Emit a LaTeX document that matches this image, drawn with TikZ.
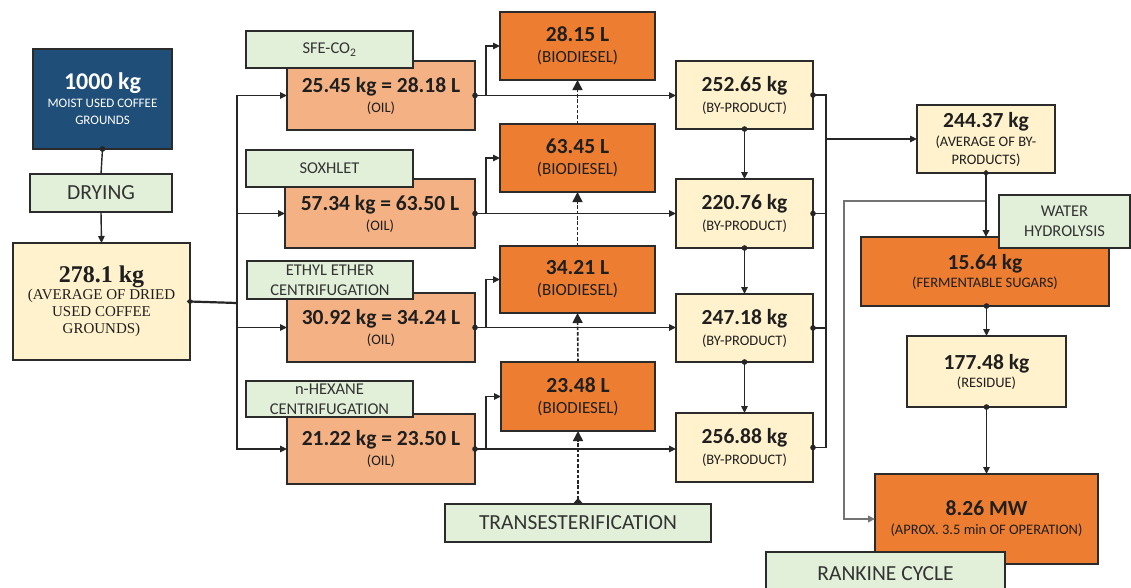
\documentclass[tikz,border=0pt]{standalone}
\usepackage{fontspec}
\setmainfont{Carlito}
\newfontfamily\serifbox{Liberation Serif}
\usetikzlibrary{arrows.meta}
\definecolor{cblue}{HTML}{1F4E79}
\definecolor{cgreen}{HTML}{E2F0D9}
\definecolor{cyel}{HTML}{FFF2CC}
\definecolor{csal}{HTML}{F4B183}
\definecolor{cora}{HTML}{ED7D31}
\definecolor{cbord}{HTML}{2B2B2B}
\newcommand\fbig{\fontsize{21.5}{24}\selectfont\bfseries}
\newcommand\fsm{\fontsize{14.5}{18}\selectfont}
\newcommand\fbd{\fontsize{17}{20}\selectfont}
\newcommand\flab{\fontsize{16.5}{20}\selectfont}
\newcommand\fmid{\fontsize{21.5}{24}\selectfont}
\begin{document}
\begin{tikzpicture}[x=1pt,y=-1pt,
 box/.style={draw=cbord, line width=1.3pt, inner sep=0pt, outer sep=0pt, align=center, text=black!88},
 wh/.style 2 args={minimum width=#1pt, minimum height=#2pt},
 bluebox/.style={box, fill=cblue, text=white},
 greenbox/.style={box, fill=cgreen, text=black!80, font=\flab},
 yelbox/.style={box, fill=cyel, font=\fsm},
 salbox/.style={box, fill=csal, font=\fsm},
 orabox/.style={box, fill=cora, font=\fsm},
 ln/.style={draw=black!85, line width=1.4pt},
 ar/.style={ln, -{Triangle[length=7pt,width=6.5pt]}},
 da/.style={ln, {Circle[length=5.5pt]}-{Triangle[length=7pt,width=6.5pt]}, shorten <=-2.75pt},
 dl/.style={ln, {Circle[length=5.5pt]}-, shorten <=-2.75pt},
 dsh/.style={ln, line width=1.6pt, dash pattern=on 3.5pt off 1.8pt, -{Triangle[length=10pt,width=10pt]}}
]
\useasboundingbox[fill=white] (0,0) rectangle (1131,587);

% left column
\node[bluebox, wh={139}{100}, font=\fontsize{13}{17}\selectfont] (top) at (102.5,99)
  {{\fontsize{24}{26}\selectfont\bfseries 1000 kg}\\[1pt] MOIST USED COFFEE\\ GROUNDS};
\node[greenbox, wh={142}{38}, font=\fmid] (dry) at (101,193) {DRYING};
\node[box, fill=cyel, wh={177}{117}, font=\serifbox\fontsize{15}{17}\selectfont] (avg) at (101.5,301.5)
  {{\serifbox\fontsize{24}{26}\selectfont\bfseries 278.1 kg}\\ (AVERAGE OF DRIED\\ USED COFFEE\\ GROUNDS)};

% oil boxes
\node[salbox, wh={188}{69}] (oil1) at (381,95.5) {{\fbig 25.45 kg = 28.18 L}\\[2pt] (OIL)};
\node[salbox, wh={190}{69}] (oil2) at (380,213.5) {{\fbig 57.34 kg = 63.50 L}\\[2pt] (OIL)};
\node[salbox, wh={188}{69}] (oil3) at (381,327.5) {{\fbig 30.92 kg = 34.24 L}\\[2pt] (OIL)};
\node[salbox, wh={188}{70}] (oil4) at (381,449) {{\fbig 21.22 kg = 23.50 L}\\[2pt] (OIL)};

% method labels
\node[greenbox, wh={167}{37}] (sfe) at (329.5,49.5) {SFE-CO\textsubscript{2}};
\node[greenbox, wh={167}{37}] (sox) at (329.5,168.5) {SOXHLET};
\node[greenbox, wh={166}{38}] (eth) at (330,280) {ETHYL ETHER\\ CENTRIFUGATION};
\node[greenbox, wh={167}{36}] (hex) at (329.5,399) {n-HEXANE\\ CENTRIFUGATION};

% biodiesel boxes
\node[orabox, wh={155}{68}, font=\fbd] (bd1) at (577.5,46) {{\fbig 28.15 L}\\[1pt] (BIODIESEL)};
\node[orabox, wh={155}{68}, font=\fbd] (bd2) at (577.5,158) {{\fbig 63.45 L}\\[1pt] (BIODIESEL)};
\node[orabox, wh={155}{67}, font=\fbd] (bd3) at (577.5,279.5) {{\fbig 34.21 L}\\[1pt] (BIODIESEL)};
\node[orabox, wh={154}{69}, font=\fbd] (bd4) at (578,396.5) {{\fbig 23.48 L}\\[1pt] (BIODIESEL)};
\node[greenbox, wh={266}{38}, font=\fmid] (trans) at (578,523) {TRANSESTERIFICATION};

% by-products
\node[yelbox, wh={137}{68}] (bp1) at (744.5,95) {{\fbig 252.65 kg}\\[3pt] (BY-PRODUCT)};
\node[yelbox, wh={137}{69}] (bp2) at (744.5,213.5) {{\fbig 220.76 kg}\\[3pt] (BY-PRODUCT)};
\node[yelbox, wh={137}{68}] (bp3) at (744.5,328) {{\fbig 247.18 kg}\\[3pt] (BY-PRODUCT)};
\node[yelbox, wh={137}{69}] (bp4) at (744.5,447.5) {{\fbig 256.88 kg}\\[3pt] (BY-PRODUCT)};

% right column
\node[yelbox, wh={138}{68}] (avgbp) at (986,139) {{\fbig 244.37 kg}\\[1pt] (AVERAGE OF BY-\\ PRODUCTS)};
\node[orabox, wh={248}{69}] (sug) at (985,271.5) {{\fbig 15.64 kg}\\ (FERMENTABLE SUGARS)};
\node[greenbox, wh={131}{53}] (wh) at (1064.5,221.5) {WATER\\ HYDROLYSIS};
\node[yelbox, wh={159}{71}] (res) at (986.5,371.5) {{\fbig 177.48 kg}\\ (RESIDUE)};
\node[orabox, wh={223}{90}] (mw) at (986.5,519) {{\fbig 8.26 MW}\\[1pt] (APROX. 3.5 min OF OPERATION)};
\node[greenbox, wh={239}{43}, font=\fmid] (rank) at (885.5,573.5) {RANKINE CYCLE};

% connectors left
\draw[dl] (top.south) -- (dry.north);
\draw[ar] (dry.south) -- (avg.north);
\coordinate (bus) at (237,303);
\draw[dl, line width=2.2pt] (avg.east) -- (bus);
\draw[ar] (bus) |- (oil1.west);
\draw[ar] (bus) |- (oil2.west);
\draw[ar] (bus) |- (oil3.west);
\draw[ar] (bus) |- (oil4.west);

% oil outputs
\foreach \i in {1,2,3,4}{
  \draw[da] (oil\i.east) -- (oil\i.east -| bp\i.west);
  \draw[ar] (oil\i.east) -- ++(11,0) |- (bd\i.west);
}

% transesterification
\draw[dsh, {Triangle[reversed,length=6pt,width=10pt]}-{Triangle[length=10pt,width=10pt]}] (trans.north) -- (bd4.south);
\draw[dsh] (bd4.north) -- (bd3.south);
\draw[dsh] (bd3.north) -- (bd2.south);
\draw[dsh] (bd2.north) -- (bd1.south);

% by-product chain
\draw[da] (bp1.south) -- (bp2.north);
\draw[da] (bp2.south) -- (bp3.north);
\draw[da] (bp3.south) -- (bp4.north);

% collector
\coordinate (col) at (826,139);
\foreach \i in {1,2,3,4}{
  \draw[dl] (bp\i.east) -| (col);
}
\draw[ar] (col) -- (avgbp.west);

% right chain
\coordinate (lft) at (844,201);
\draw[ar, draw=black!55, line width=1.8pt] (avgbp.south) |- (lft) |- (mw.west);
\draw[da, line width=1.8pt] (avgbp.south) -- (avgbp.south |- sug.north);
\draw[da] (sug.south -| res.north) -- (res.north);
\draw[da] (res.south) -- (mw.north);
\end{tikzpicture}
\end{document}
